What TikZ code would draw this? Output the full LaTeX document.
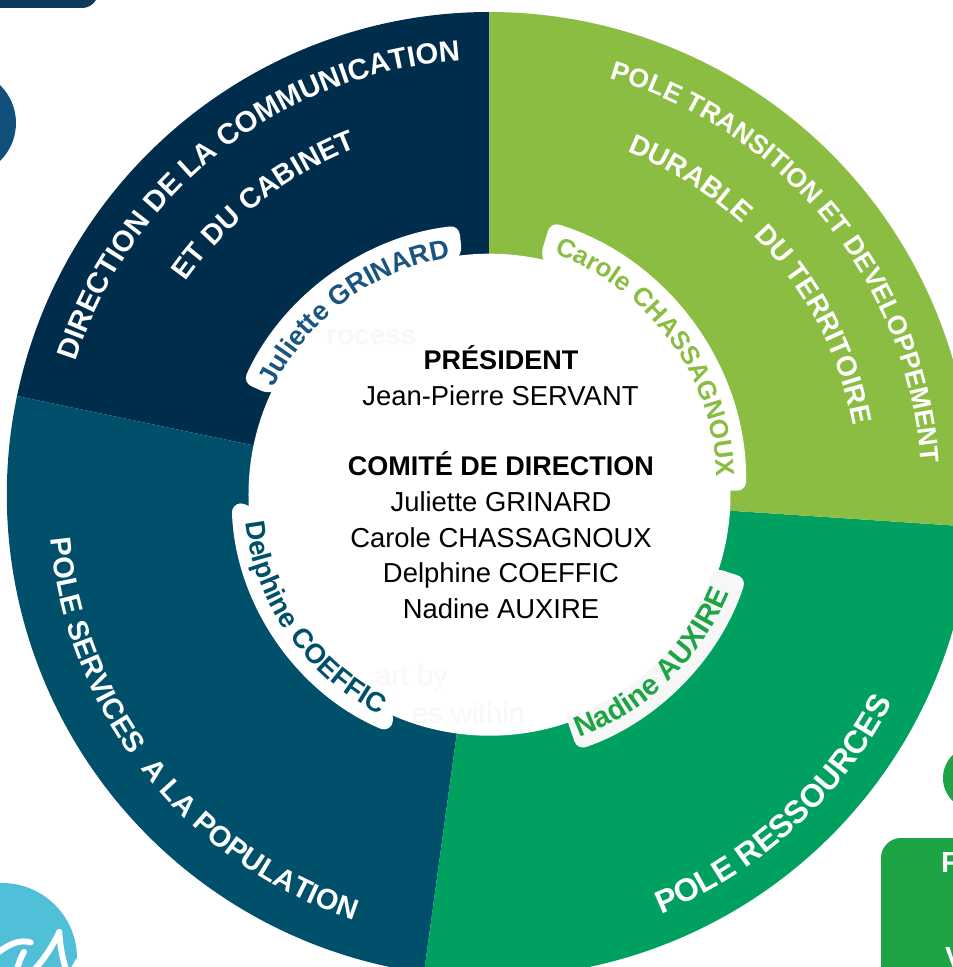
\documentclass[tikz,border=0pt]{standalone}
\usepackage{fontspec}
\setmainfont{Liberation Sans}
\usetikzlibrary{decorations.text}
\definecolor{navy}{HTML}{012D4C}
\definecolor{teal2}{HTML}{00506B}
\definecolor{lgreen}{HTML}{8ABD42}
\definecolor{mgreen}{HTML}{00A060}
\definecolor{bgreen}{HTML}{1DA444}
\definecolor{jblue}{HTML}{1A5480}
\definecolor{sblue}{HTML}{50BFD8}
\definecolor{cblue}{HTML}{11507A}
\definecolor{tblue}{HTML}{0E3A5E}
\definecolor{ghost}{HTML}{F8F8F8}
\definecolor{pillgrey}{HTML}{F7F7F7}
% radius, start, end, colour, size, text
\newcommand{\arctext}[6]{%
  \path[decorate,decoration={text along path,text align=center,text color=#4,
    text={|\fontsize{#5}{#5}\selectfont\bfseries|#6}}]
    (#2:#1pt) arc[start angle=#2,end angle=#3,radius=#1pt];}
\newcommand{\sector}[3]{%
  \fill[#3] (0,0) -- (#1:482.7pt) arc[start angle=#1,end angle=#2,radius=482.7pt] -- cycle;}
\newcommand{\pill}[5]{%
  \fill[#5,rounded corners=9pt] (#1:241pt) -- (#1:#3pt) arc[start angle=#1,end angle=#2,radius=#3pt] -- (#2:#4pt) -- cycle;}
\tikzset{
  pix/.style={shift={(-489.5pt,494.7pt)},y=-1pt},
  centre/.style={anchor=base,inner sep=0pt,font=\fontsize{27.4}{27.4}\selectfont,text=black},
  centreb/.style={centre,font=\fontsize{27}{27}\selectfont\bfseries},
  ghosttext/.style={anchor=base west,inner sep=0pt,font=\fontsize{29}{29}\selectfont,text=ghost},
  logo/.style={white,line width=6pt,line cap=round}
}
\begin{document}
\begin{tikzpicture}[x=1pt,y=1pt]
\useasboundingbox (-489.5,494.7) rectangle (463.5,-472.3);
\clip (-489.5,494.7) rectangle (463.5,-472.3);
% partial neighbours
\begin{scope}[pix]
  \fill[tblue,rounded corners=16pt] (-40,-40) rectangle (98,8);
  \fill[cblue] (-37,123) circle[radius=53pt];
  \fill[sblue] (2,958) circle[radius=75pt];
  \fill[white] (76.5,958) -- (71,968) -- (78,968) -- cycle;
  \draw[logo] (-4,954) .. controls (13,941) and (22,940) .. (30.7,942.5);
  \draw[logo] (59.3,932) .. controls (53,945) and (46,957) .. (34,970);
  \draw[logo] (59.3,932) .. controls (60,945) and (62,956) .. (66,970);
  \draw[logo] (17,970) .. controls (19,962) and (21,957) .. (24,952);
  \fill[bgreen] (975,778) circle[radius=32pt];
  \fill[bgreen,rounded corners=20pt] (881,1000) -- (881,838) -- (1000,838) -- (1000,1000) -- cycle;
  \node[anchor=base west,inner sep=0pt,text=white,font=\fontsize{29}{29}\selectfont\bfseries] (boxf) at (941,872) {F};
  \node[anchor=base west,inner sep=0pt,text=white,font=\fontsize{29}{29}\selectfont\bfseries] (boxv) at (945,967) {V};
\end{scope}
% sectors
\sector{90}{168.2}{navy}
\sector{168.2}{262.2}{teal2}
\sector{262.2}{356.2}{mgreen}
\sector{-3.8}{90}{lgreen}
% centre disc
\fill[white] (0,0) circle[radius=241pt];
% tabs
\pill{155.5}{96.5}{271}{241}{white}
\pill{182}{247}{258}{241}{white}
\fill[pillgrey,rounded corners=9pt] (-71:236pt) -- (-71:270pt) arc[start angle=-71,end angle=-18,radius=270pt] -- (-18:236pt) arc[start angle=-18,end angle=-71,radius=236pt] -- cycle;
\begin{scope}[shift={(-19.5pt,8.7pt)}]
  \fill[white,rounded corners=9pt] (73:240pt) -- (73:276pt) arc[start angle=73,end angle=-1,radius=276pt] -- (-1:240pt) -- cycle;
  \arctext{247}{94.6}{-22.4}{lgreen}{26}{Carole CHASSAGNOUX}
\end{scope}
% tab labels
\arctext{240.5}{179.5}{73.5}{jblue}{27}{Juliette GRINARD}
\arctext{245.5}{161.3}{268.7}{teal2}{27.5}{Delphine COEFFIC}
\arctext{259}{-94.5}{2.5}{bgreen}{29}{Nadine AUXIRE}
% sector labels
\arctext{435}{178}{78}{white}{29.2}{DIRECTION DE LA COMMUNICATION}
\arctext{371}{170.5}{85.5}{white}{28.5}{ET DU CABINET}
\arctext{433}{84.4}{-6.4}{white}{26.5}{POLE TRANSITION ET DEVELOPPEMENT}
\arctext{370}{84.5}{-5.5}{white}{28}{DURABLE ~DU TERRITOIRE}
\begin{scope}[shift={(4pt,-3pt)}]
  \arctext{445}{176}{261}{white}{29}{POLE SERVICES ~A LA POPULATION}
\end{scope}
\arctext{453}{-84.5}{-10.5}{white}{32}{POLE RESSOURCES}
% centre text
\begin{scope}[pix]
  \node[ghosttext,font=\fontsize{28}{28}\selectfont\bfseries] (g1) at (326,345) {rocess};
  \node[ghosttext] (g2) at (375,685) {art by};
  \node[ghosttext] (g3) at (412,723) {es within};
  \node[centreb] (t1) at (501,369.5) {PRÉSIDENT};
  \node[centre]  (t2) at (500.5,405) {Jean-Pierre SERVANT};
  \node[centreb] (t3) at (501,475.5) {COMITÉ DE DIRECTION};
  \node[centre]  (t4) at (501,511) {Juliette GRINARD};
  \node[centre]  (t5) at (501,547.5) {Carole CHASSAGNOUX};
  \node[centre]  (t6) at (501,582.5) {Delphine COEFFIC};
  \node[centre]  (t7) at (501,618) {Nadine AUXIRE};
\end{scope}
\end{tikzpicture}
\end{document}
